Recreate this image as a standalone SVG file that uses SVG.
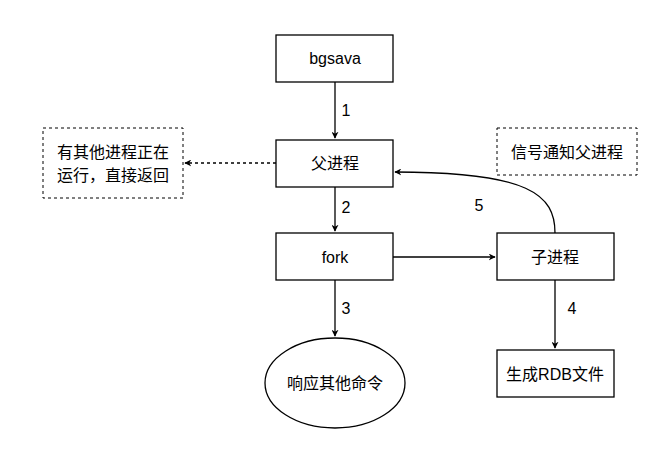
<svg xmlns="http://www.w3.org/2000/svg" width="651" height="459" viewBox="0 0 651 459">
<defs>
<style>
.n{fill:#fff;stroke:#000;stroke-width:1.3}
.d{fill:#fff;stroke:#000;stroke-width:1;stroke-dasharray:3 3}
.t{font-family:"Liberation Sans","Noto Sans CJK SC",sans-serif;font-size:16px;fill:#000;text-anchor:middle;dominant-baseline:central}
.c{fill:none;stroke:#000;stroke-width:1.3}
</style>
<marker id="a" viewBox="0 0 10 10" refX="9" refY="5" markerWidth="7" markerHeight="7" orient="auto" markerUnits="userSpaceOnUse"><path d="M0 0L10 5L0 10L3 5Z" fill="#000"/></marker>
</defs>
<rect width="651" height="459" fill="#fff"/>
<g id="connectors">
<path class="c" d="M335 82V138" marker-end="url(#a)"/>
<path class="c" d="M335 187V231" marker-end="url(#a)"/>
<path class="c" d="M335 280V336" marker-end="url(#a)"/>
<path class="c" d="M393 257H495" marker-end="url(#a)"/>
<path class="c" d="M555 280V348" marker-end="url(#a)"/>
<path class="c" d="M555 233C555 195 530 172 395 172" marker-end="url(#a)"/>
<path class="c" stroke-dasharray="3 3" d="M276 163H185" marker-end="url(#a)"/>
<text class="t" x="346" y="110">1</text>
<text class="t" x="346" y="207">2</text>
<text class="t" x="346" y="308">3</text>
<text class="t" x="572" y="308">4</text>
<text class="t" x="479" y="205">5</text>
</g>
<g id="bgsava"><rect class="n" x="276" y="35" width="117" height="47"/><text class="t" x="335" y="58">bgsava</text></g>
<g id="parent"><rect class="n" x="276" y="140" width="117" height="47"/><text class="t" x="335" y="163">父进程</text></g>
<g id="fork"><rect class="n" x="276" y="233" width="117" height="47"/><text class="t" x="335" y="257">fork</text></g>
<g id="child"><rect class="n" x="497" y="233" width="117" height="47"/><text class="t" x="555" y="257">子进程</text></g>
<g id="respond"><ellipse class="n" cx="335" cy="383" rx="70" ry="45"/><text class="t" x="335" y="383">响应其他命令</text></g>
<g id="rdb"><rect class="n" x="497" y="350" width="117" height="47"/><text class="t" x="555" y="374">生成RDB文件</text></g>
<g id="running"><rect class="d" x="43" y="128" width="140" height="70"/><text class="t" x="113" y="152">有其他进程正在</text><text class="t" x="113" y="175">运行，直接返回</text></g>
<g id="signal"><rect class="d" x="497" y="128" width="140" height="47"/><text class="t" x="567" y="152">信号通知父进程</text></g>
</svg>
